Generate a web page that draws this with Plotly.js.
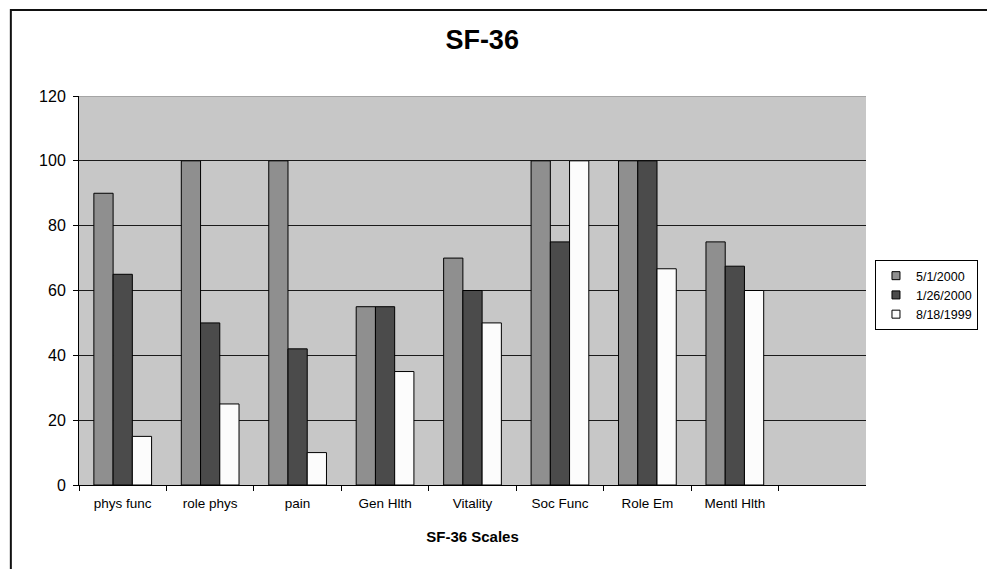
<!DOCTYPE html>
<html><head><meta charset="utf-8">
<script src="https://cdn.plot.ly/plotly-3.0.1.min.js"></script>
<style>html,body{margin:0;padding:0;background:#fff;}#chart{width:987px;height:569px;}</style>
</head><body><div id="chart"></div>
<script>
const categories = ["phys func","role phys","pain","Gen Hlth","Vitality","Soc Func","Role Em","Mentl Hlth"];
const seriesNames = ["5/1/2000","1/26/2000","8/18/1999"];
const s2000May = [90,100,100,55,70,100,100,75];
const s2000Jan = [65,50,42,55,60,75,100,67.5];
const s1999Aug = [15,25,10,35,50,100,66.7,60];
const yTicks = [0,20,40,60,80,100,120];

const colors = ["#8f8f8f","#4b4b4b","#fcfcfc"];
const vals = [s2000May,s2000Jan,s1999Aug];
const FONT = "Liberation Sans, Arial, sans-serif";
const traces = vals.map((v,i)=>({
  type:"bar", x:categories, y:v, name:seriesNames[i], showlegend:false,
  marker:{color:colors[i], line:{color:"#000", width:1}}, hoverinfo:"skip"
}));
// legend entries with small square swatches
vals.forEach((v,i)=>traces.push({
  type:"scatter", mode:"markers", x:[null], y:[null], name:seriesNames[i], showlegend:true,
  marker:{symbol:"square", size:8, color:colors[i], line:{color:"#000", width:1}}, hoverinfo:"skip"
}));

const layout = {
  width:987, height:569,
  margin:{l:79, r:121, t:96, b:84},
  paper_bgcolor:"#fff", plot_bgcolor:"#c7c7c7",
  font:{family:FONT, color:"#000", size:12},
  barmode:"group", bargap:0.34, bargroupgap:0,
  showlegend:true,
  legend:{xref:"container", yref:"container", x:0.8865, y:0.543, xanchor:"left", yanchor:"top",
    bordercolor:"#000", borderwidth:1, bgcolor:"#fff",
    font:{family:FONT, size:12.5, color:"#000"}, itemwidth:30, tracegroupgap:0},
  title:{text:"<b>SF-36</b>", x:0.4885, xref:"container", y:0.93, yref:"container", yanchor:"middle",
    font:{family:FONT, size:27, color:"#000"}},
  xaxis:{type:"category", categoryorder:"array", categoryarray:categories, automargin:false,
    range:[-0.5,8.5], tickson:"boundaries", ticks:"outside", ticklen:5, tickcolor:"#000",
    ticklabelstandoff:6,
    showline:true, linecolor:"#000", linewidth:1, showgrid:false, zeroline:false,
    tickfont:{family:FONT, size:13.5, color:"#000"},
    title:{text:"<b>SF-36 Scales</b>", standoff:21, font:{family:FONT, size:15, color:"#000"}}},
  yaxis:{range:[0,120], tickvals:yTicks, ticktext:yTicks.map(String), automargin:false,
    ticks:"outside", ticklen:5, tickcolor:"#000", showline:true, linecolor:"#000", linewidth:1,
    ticklabelstandoff:4,
    showgrid:true, gridcolor:"#1a1a1a", gridwidth:1, zeroline:false,
    tickfont:{family:FONT, size:16, color:"#000"}},
  shapes:[
    {type:"line", xref:"paper", yref:"y", x0:0, x1:1, y0:120, y1:120, line:{color:"#9a9a9a", width:1.5}},
    {type:"rect", xref:"paper", yref:"paper", x0:-0.0866, x1:1.25, y0:-0.4, y1:1.2208, line:{color:"#111", width:2}, fillcolor:"rgba(0,0,0,0)"}
  ]
};
Plotly.newPlot("chart", traces, layout, {displayModeBar:false, staticPlot:true});
</script></body></html>
